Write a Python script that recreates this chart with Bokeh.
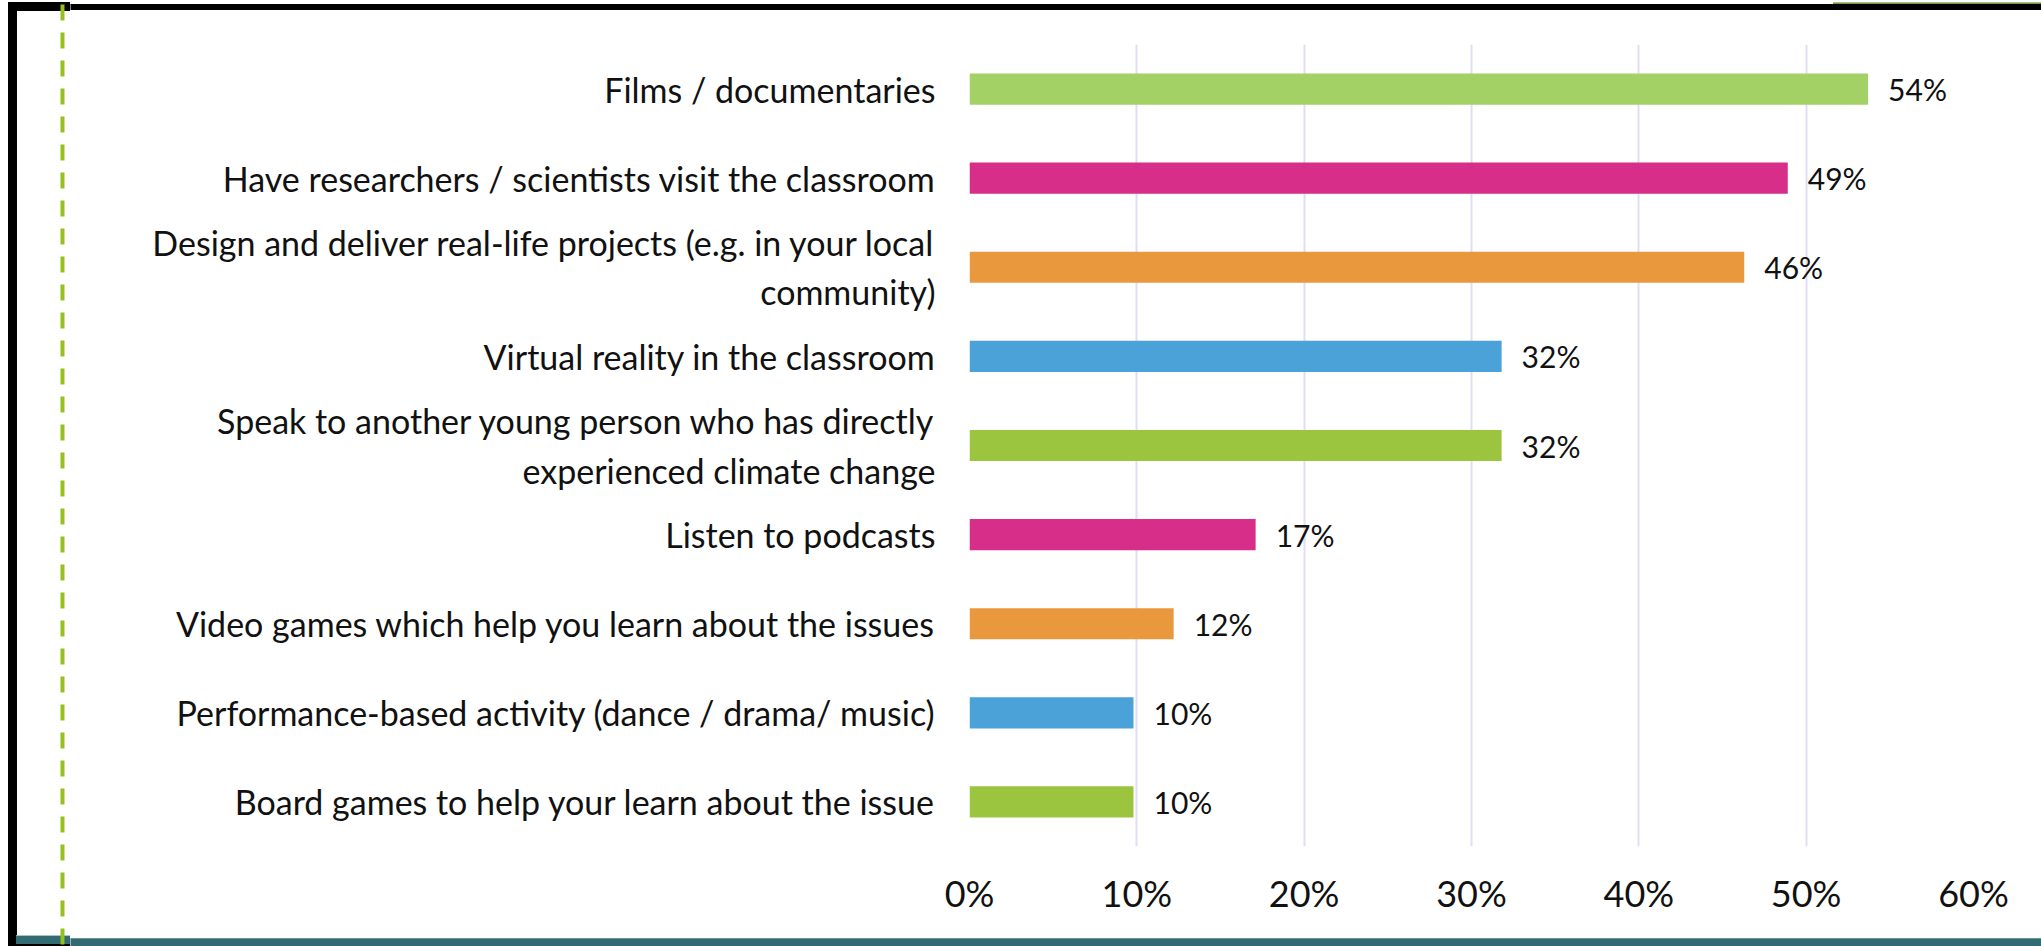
from bokeh.plotting import figure
from bokeh.models import Range1d, FixedTicker, PrintfTickFormatter, ColumnDataSource
from bokeh.layouts import row, column
from bokeh.core.properties import value
from bokeh.embed import file_html
from bokeh.resources import INLINE

# ---------------- data ----------------
categories = [
    "Films / documentaries",
    "Have researchers / scientists visit the classroom",
    "Design and deliver real-life projects (e.g. in your local\ncommunity)",
    "Virtual reality in the classroom",
    "Speak to another young person who has directly\nexperienced climate change",
    "Listen to podcasts",
    "Video games which help you learn about the issues",
    "Performance-based activity (dance / drama/ music)",
    "Board games to help your learn about the issue",
]
shares = [53.7, 48.9, 46.3, 31.8, 31.8, 17.1, 12.2, 9.8, 9.8]
share_labels = ["54%", "49%", "46%", "32%", "32%", "17%", "12%", "10%", "10%"]
bar_colors = ["#a3d166", "#d62e89", "#ea983d", "#4ba2d8", "#9bc53f",
              "#d62e89", "#ea983d", "#4ba2d8", "#9bc53f"]
x_ticks = [0, 10, 20, 30, 40, 50, 60]

# ---------------- page geometry (page pixels) ----------------
PW, PH = 2041, 946
LEFT_W = 70          # decoration strip on the left
TOP_H = 10           # top decoration strip
BOT_H = 10           # bottom decoration strip
MAIN_W = PW - LEFT_W
MAIN_H = PH - TOP_H - BOT_H

FONT = "Lato"
TXT = "#111111"

centers = [i + 0.5 for i in range(len(categories))]
src = ColumnDataSource(dict(y=centers, right=shares, color=bar_colors, lab=share_labels))

p = figure(width=MAIN_W, height=MAIN_H, output_backend="svg", toolbar_location=None,
           x_range=Range1d(0, 60), y_range=Range1d(len(categories), 0),
           min_border_left=969 - LEFT_W, min_border_right=PW - 1973,
           min_border_top=44 - TOP_H, min_border_bottom=936 - 846,
           frame_align=False)
p.outline_line_color = None
p.background_fill_color = "white"
p.border_fill_color = "white"

p.hbar(y="y", left=0, right="right", height=0.35, fill_color="color", line_color=None, source=src)
p.text(x="right", y="y", text="lab", source=src, x_offset=20, text_align="left",
       text_baseline="middle", text_font=value(FONT), text_font_size="30px", text_color=TXT)

xa = p.xaxis[0]
xa.ticker = FixedTicker(ticks=x_ticks)
xa.formatter = PrintfTickFormatter(format="%d%%")
xa.axis_line_color = None
xa.major_tick_line_color = None
xa.minor_tick_line_color = None
xa.major_label_text_font = FONT
xa.major_label_text_font_size = "36px"
xa.major_label_text_color = TXT
xa.major_label_standoff = 18

ya = p.yaxis[0]
ya.ticker = FixedTicker(ticks=centers)
ya.major_label_overrides = {c: lab for c, lab in zip(centers, categories)}
ya.axis_line_color = None
ya.major_tick_line_color = None
ya.minor_tick_line_color = None
ya.major_label_text_font = FONT
ya.major_label_text_font_size = "34px"
ya.major_label_text_color = TXT
ya.major_label_standoff = 28
ya.major_label_text_line_height = 1.2

p.xgrid.ticker = FixedTicker(ticks=x_ticks)
p.xgrid.grid_line_color = "#e2dcf4"
p.xgrid.grid_line_width = 2
p.ygrid.grid_line_color = None


# ---------------- page frame decorations ----------------
def deco(x0, x1, y0, y1):
    f = figure(width=x1 - x0, height=y1 - y0, output_backend="svg", toolbar_location=None,
               x_range=Range1d(x0, x1), y_range=Range1d(y1, y0),
               x_axis_type=None, y_axis_type=None, min_border=0, frame_align=False)
    f.outline_line_color = None
    f.grid.visible = False
    f.background_fill_color = "white"
    f.border_fill_color = "white"
    f.quad(left=[1833], right=[PW], top=[0], bottom=[2], color="#6e9a40")      # top-right strip
    f.quad(left=[8], right=[PW], top=[2], bottom=[10], color="black")          # top border
    f.quad(left=[8], right=[16], top=[2], bottom=[PH], color="black")          # left border
    f.quad(left=[16], right=[PW], top=[935], bottom=[936], color="#a9c4c6")    # band edge
    f.quad(left=[16], right=[PW], top=[936], bottom=[944], color="#326b72")    # bottom band
    f.quad(left=[8], right=[PW], top=[944], bottom=[PH], color="black")        # bottom border
    f.segment(x0=[62], y0=[4], x1=[62], y1=[944], line_color="#95c11f",
              line_width=4, line_dash="16 12")                                # dashed guide
    return f


left_strip = deco(0, LEFT_W, 0, PH)
top_strip = deco(LEFT_W, PW, 0, TOP_H)
bottom_strip = deco(LEFT_W, PW, PH - BOT_H, PH)

page = row(left_strip, column(top_strip, p, bottom_strip, spacing=0), spacing=0)

open("out.html", "w").write(file_html(page, INLINE))
